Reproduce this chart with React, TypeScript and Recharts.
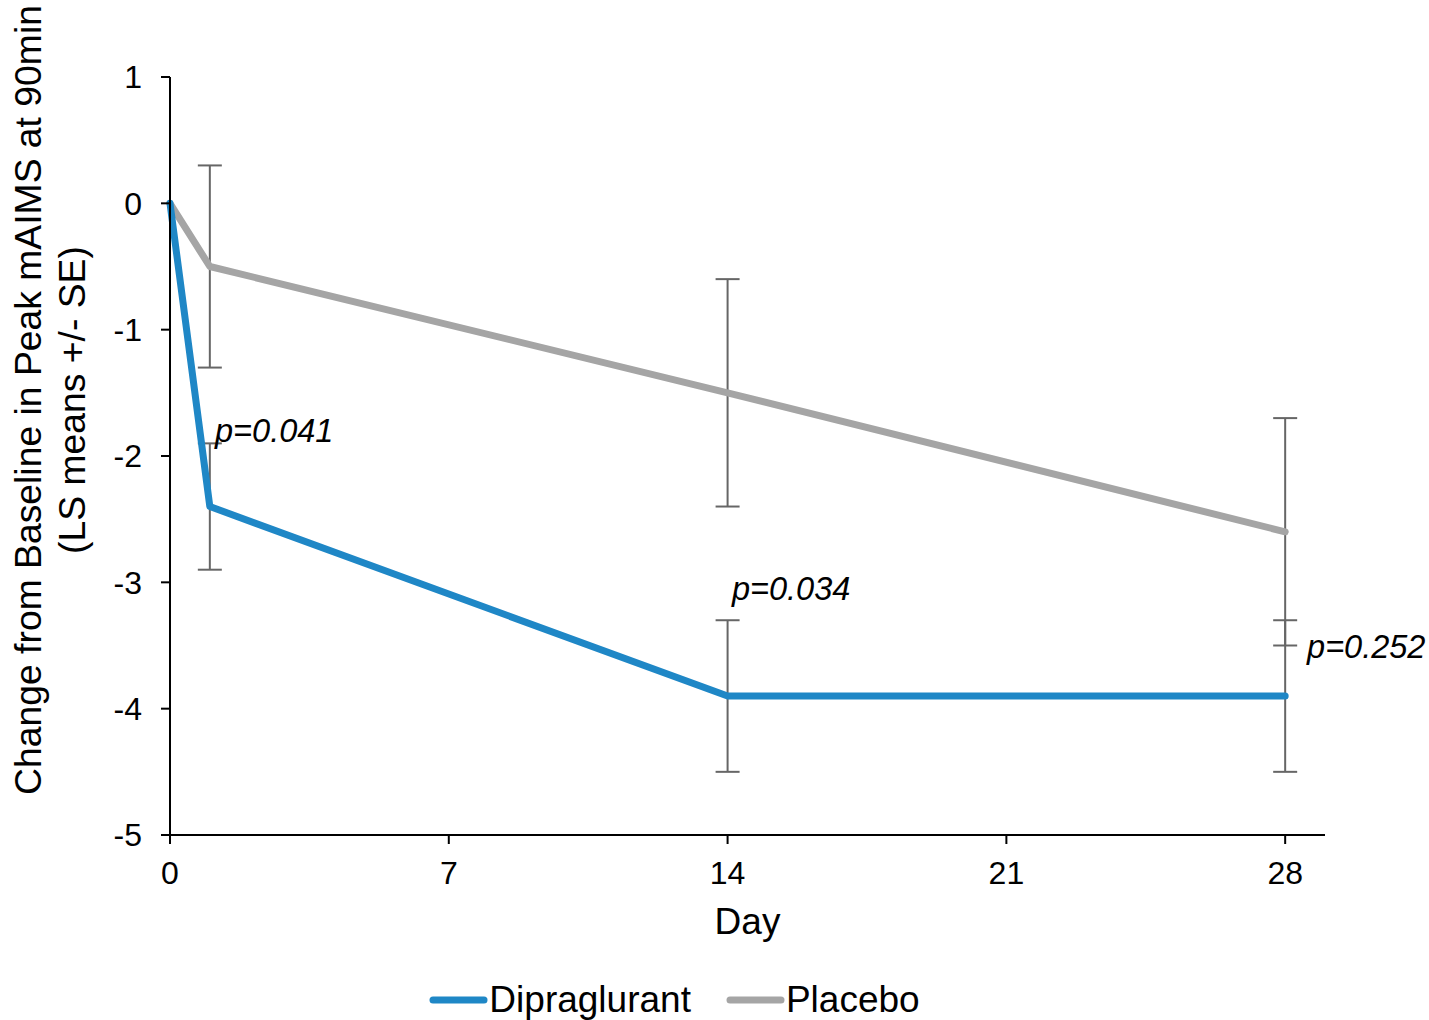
import {
  LineChart,
  Line,
  XAxis,
  YAxis,
  ErrorBar,
  ReferenceDot,
} from 'recharts';

const days = [0, 1, 14, 28];
const dipraglurant = [0, -2.4, -3.9, -3.9];
const dipraglurantSE = [null, 0.5, 0.6, 0.6];
const placebo = [0, -0.5, -1.5, -2.6];
const placeboSE = [null, 0.8, 0.9, 0.9];

const xTicks = [0, 7, 14, 21, 28];
const yTicks = [-5, -4, -3, -2, -1, 0, 1];

// p-value notes, placed in data units
const pLabels = ['p=0.041', 'p=0.034', 'p=0.252'];
const pLabelX = [1.13, 14.11, 28.55];
const pLabelY = [-1.8, -3.05, -3.51];

const BLUE = '#1f87c6';
const GRAY = '#a5a5a5';
const FONT = '"Liberation Sans", Arial, sans-serif';

const data = days.map((d, i) => ({
  day: d,
  dipraglurant: dipraglurant[i],
  dipSE: dipraglurantSE[i],
  placebo: placebo[i],
  plaSE: placeboSE[i],
}));

const YLabel = () => (
  <text
    transform="rotate(-90, 50, 400)"
    textAnchor="middle"
    fontSize={37.3}
    fontFamily={FONT}
    fill="#000"
  >
    <tspan x={50} y={378} dominantBaseline="central">
      Change from Baseline in Peak mAIMS at 90min
    </tspan>
    <tspan x={50} y={422} dominantBaseline="central">
      (LS means +/- SE)
    </tspan>
  </text>
);

const XLabel = (props: any) => {
  const { viewBox } = props;
  return (
    <text
      x={viewBox.x + viewBox.width / 2}
      y={viewBox.y + 86}
      textAnchor="middle"
      dominantBaseline="central"
      fontSize={37}
      fontFamily={FONT}
      fill="#000"
    >
      Day
    </text>
  );
};

const PNote = (text: string) => (props: any) => {
  const { viewBox } = props;
  return (
    <text
      x={viewBox.x}
      y={viewBox.y}
      dominantBaseline="central"
      fontSize={32.5}
      fontStyle="italic"
      fontFamily={FONT}
      fill="#000"
    >
      {text}
    </text>
  );
};

const legendItems = [
  { name: 'Dipraglurant', color: BLUE },
  { name: 'Placebo', color: GRAY },
];

const App = () => {
  return (
    <div style={{ position: 'absolute', left: 0, top: 0, width: 1429, height: 1020, background: '#fff', fontFamily: FONT }}>
      <LineChart
        width={1429}
        height={1020}
        data={data}
        margin={{ top: 77, right: 104, bottom: 85, left: 70 }}
      >
        <XAxis
          dataKey="day"
          type="number"
          domain={[0, 29]}
          ticks={xTicks}
          stroke="#000"
          strokeWidth={2}
          tickSize={9}
          tickMargin={17}
          tick={{ fill: '#000', fontSize: 32, fontFamily: FONT }}
          height={100}
          label={<XLabel />}
        />
        <YAxis
          type="number"
          domain={[-5, 1]}
          ticks={yTicks}
          stroke="#000"
          strokeWidth={2}
          tickSize={9}
          tickMargin={19}
          tick={{ fill: '#000', fontSize: 32, fontFamily: FONT }}
          width={100}
          label={<YLabel />}
        />
        <Line
          dataKey="placebo"
          stroke={GRAY}
          strokeWidth={7}
          strokeLinecap="round"
          strokeLinejoin="round"
          dot={false}
          isAnimationActive={false}
        >
          <ErrorBar dataKey="plaSE" direction="y" width={12} stroke="#666" strokeWidth={2} />
        </Line>
        <Line
          dataKey="dipraglurant"
          stroke={BLUE}
          strokeWidth={7}
          strokeLinecap="round"
          strokeLinejoin="round"
          dot={false}
          isAnimationActive={false}
        >
          <ErrorBar dataKey="dipSE" direction="y" width={12} stroke="#666" strokeWidth={2} />
        </Line>
        {pLabels.map((t, i) => (
          <ReferenceDot
            key={t}
            x={pLabelX[i]}
            y={pLabelY[i]}
            r={0}
            fill="none"
            stroke="none"
            ifOverflow="visible"
            label={PNote(t)}
          />
        ))}
      </LineChart>
      <div
        style={{
          position: 'absolute',
          top: 979,
          left: 0,
          width: 1429,
          display: 'flex',
          justifyContent: 'center',
          gap: 35,
          paddingRight: 80,
          boxSizing: 'border-box',
        }}
      >
        {legendItems.map((it) => (
          <div key={it.name} style={{ display: 'flex', alignItems: 'center', fontSize: 37, lineHeight: '42px', color: '#000' }}>
            <svg width={59} height={10} style={{ marginRight: 1 }}>
              <line x1={4} y1={5} x2={55} y2={5} stroke={it.color} strokeWidth={7} strokeLinecap="round" />
            </svg>
            {it.name}
          </div>
        ))}
      </div>
    </div>
  );
};

export default App;
